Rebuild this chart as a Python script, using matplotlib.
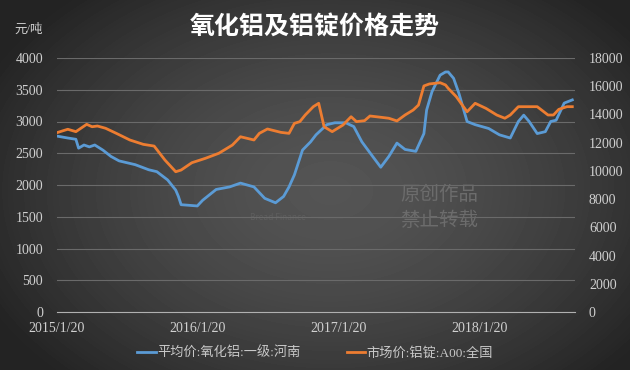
import numpy as np
import matplotlib.pyplot as plt
from datetime import date, timedelta

plt.rcParams['font.family'] = ['Liberation Serif', 'Noto Sans CJK SC', 'DejaVu Sans']

start = date(2015, 1, 20)

# 平均价:氧化铝:一级:河南 (left axis, 元/吨), sampled by week since 2015/1/20
alumina_weeks = [0, 4, 7, 8, 10, 12, 14, 17, 20, 23, 29, 34, 37, 41, 44, 45, 46, 52, 54, 59,
                 64, 68, 73, 77, 81, 84, 86, 88, 91, 94, 96, 100, 103, 107, 110, 113, 117, 120,
                 123, 126, 129, 133, 136, 137, 139, 142, 144, 145, 147, 149, 152, 155, 160, 164,
                 168, 171, 173, 175, 178, 181, 183, 185, 188, 191]
alumina_price = [2770, 2740, 2720, 2580, 2630, 2600, 2630, 2550, 2450, 2380, 2320, 2240, 2210,
                 2080, 1920, 1820, 1690, 1670, 1760, 1930, 1970, 2030, 1970, 1790, 1720, 1820,
                 1970, 2160, 2550, 2680, 2790, 2950, 2980, 2980, 2920, 2680, 2450, 2280, 2450,
                 2660, 2560, 2530, 2810, 3180, 3470, 3730, 3780, 3780, 3680, 3440, 3000, 2950,
                 2890, 2790, 2740, 3000, 3100, 3000, 2810, 2840, 3000, 3020, 3290, 3340]

# 市场价:铝锭:A00:全国 (right axis)
ingot_weeks = [0, 4, 7, 11, 13, 15, 18, 22, 27, 32, 36, 40, 44, 46, 50, 55, 60, 65, 68, 73,
               75, 78, 83, 86, 88, 90, 92, 95, 97, 99, 102, 106, 109, 111, 114, 116, 120, 123,
               126, 129, 132, 134, 136, 138, 142, 144, 145, 148, 152, 155, 159, 163, 166, 168,
               171, 175, 178, 182, 184, 186, 189, 191]
ingot_price = [12710, 12950, 12780, 13300, 13130, 13180, 13020, 12660, 12190, 11880, 11760,
               10770, 9940, 10060, 10580, 10890, 11250, 11830, 12420, 12190, 12660, 12970,
               12730, 12660, 13370, 13490, 13960, 14550, 14790, 13130, 12780, 13250, 13840,
               13490, 13560, 13890, 13800, 13730, 13540, 13960, 14310, 14670, 16020, 16160,
               16250, 16090, 15850, 15260, 14190, 14790, 14430, 13960, 13730, 13960, 14550,
               14550, 14550, 13960, 13960, 14360, 14550, 14550]

tick_labels = ["2015/1/20", "2016/1/20", "2017/1/20", "2018/1/20"]
left_ticks = list(range(0, 4001, 500))
right_ticks = list(range(0, 18001, 2000))

alumina_dates = [start + timedelta(weeks=w) for w in alumina_weeks]
ingot_dates = [start + timedelta(weeks=w) for w in ingot_weeks]
tick_dates = [date(*map(int, t.split("/"))) for t in tick_labels]

fig = plt.figure(figsize=(6.3, 3.7), dpi=100)

# dark radial background
bg = fig.add_axes([0, 0, 1, 1], zorder=-5)
yy, xx = np.mgrid[0:370, 0:630]
r = np.sqrt(((xx - 330) / 380.0) ** 2 + ((yy - 190) / 260.0) ** 2)
shade = 0.33 - 0.19 * np.clip(r, 0, 1) ** 1.6
bg.imshow(shade, cmap='gray', vmin=0, vmax=1, aspect='auto', interpolation='bilinear')
bg.axis('off')

cjk = ['Noto Sans CJK SC', 'DejaVu Sans']

# watermark
fig.text(400 / 630, 1 - 194 / 370, "原创作品", color='#6c6c6c', fontsize=14, va='center',
         family=cjk, zorder=-1)
fig.text(400 / 630, 1 - 220 / 370, "禁止转载", color='#6c6c6c', fontsize=14, va='center',
         family=cjk, zorder=-1)
fig.text(250 / 630, 1 - 218 / 370, "Bread Finance", color='#5e5e5e', fontsize=6, va='center',
         family=cjk, zorder=-1)

ax = fig.add_axes([57 / 630, 1 - 312 / 370, 518 / 630, 254 / 370])
ax.patch.set_alpha(0)
ax2 = ax.twinx()

l1, = ax.plot(alumina_dates, alumina_price, color='#5b9bd5', lw=2.0, solid_joinstyle='round')
l2, = ax2.plot(ingot_dates, ingot_price, color='#ed7d31', lw=2.0, solid_joinstyle='round')

ax.set_xlim(start, start + timedelta(weeks=192))
ax.set_ylim(0, 4000)
ax2.set_ylim(0, 18000)
ax.set_yticks(left_ticks)
ax2.set_yticks(right_ticks)
ax.set_xticks(tick_dates)
ax.set_xticklabels(tick_labels)

ax.yaxis.grid(True, color='#6a6a6a', lw=0.8)
ax.set_axisbelow(True)
for a in (ax, ax2):
    for s in a.spines.values():
        s.set_visible(False)
    a.tick_params(length=0, labelcolor='#d0d0d0', labelsize=10)
ax.spines['bottom'].set_visible(True)
ax.spines['bottom'].set_color('#b0b0b0')
ax.tick_params(axis='y', pad=10)
ax2.tick_params(axis='y', pad=10)
ax.tick_params(axis='x', pad=7)

fig.text(0.5, 1 - 28 / 370, "氧化铝及铝锭价格走势", color='white', fontsize=18,
         fontweight='bold', ha='center', va='center', family=cjk)
fig.text(14 / 630, 1 - 30 / 370, "元/吨", color='#d0d0d0', fontsize=9, va='center')

fig.legend([l1, l2], ["平均价:氧化铝:一级:河南", "市场价:铝锭:A00:全国"],
           loc='center', bbox_to_anchor=(0.5, 1 - 353 / 370), ncol=2, frameon=False,
           labelcolor='#c8c8c8', fontsize=9.5, handlelength=1.4, handletextpad=0.1,
           columnspacing=3.5)

fig.savefig("out.png", dpi=100)
